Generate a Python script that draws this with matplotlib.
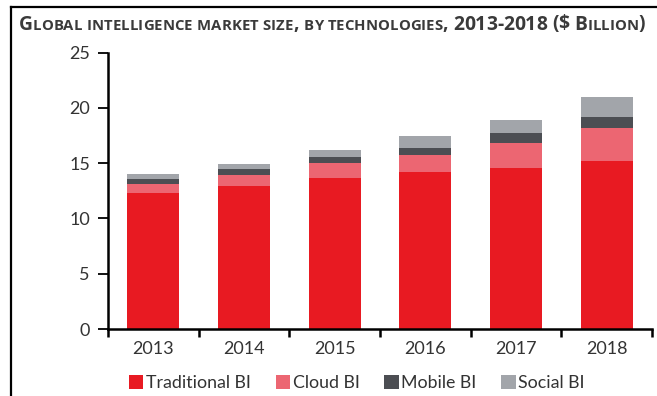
import numpy as np
from matplotlib import pyplot as plt
from matplotlib.lines import Line2D
from matplotlib.patches import Patch

years = ["2013", "2014", "2015", "2016", "2017", "2018"]
traditional_bi = [12.35, 12.95, 13.7, 14.2, 14.6, 15.2]
cloud_bi = [0.75, 1.0, 1.3, 1.5, 2.25, 3.0]
mobile_bi = [0.45, 0.5, 0.6, 0.7, 0.85, 1.0]
social_bi = [0.45, 0.5, 0.6, 1.05, 1.25, 1.75]

series_names = ["Traditional BI", "Cloud BI", "Mobile BI", "Social BI"]
colors = ["#E81A22", "#EC6672", "#4C4E53", "#A2A5AA"]

plt.rcParams["font.family"] = ["Lato", "DejaVu Sans"]
text_color = "#333333"

fig = plt.figure(figsize=(6.57, 3.96), dpi=100)
ax = fig.add_axes([108 / 657, 67 / 396, 544 / 657, (329 - 52.7) / 396])

x = np.arange(len(years))
bottom = np.zeros(len(years))
for values, color in zip([traditional_bi, cloud_bi, mobile_bi, social_bi], colors):
    ax.bar(x, values, width=0.57, bottom=bottom, color=color, linewidth=0)
    bottom += np.array(values)

ax.set_xlim(-0.5, len(years) - 0.5)
ax.set_ylim(0, 25)
ax.set_yticks([0, 5, 10, 15, 20, 25])
ax.set_xticks(x, years)
ax.set_xticks(np.arange(-0.5, len(years)), minor=True)
ax.tick_params(axis="x", which="major", length=0, pad=9, labelsize=13, colors=text_color)
ax.tick_params(axis="x", which="minor", length=6, width=1.8, direction="out", color="black")
ax.tick_params(axis="y", length=7, width=1.3, pad=6, labelsize=13, colors=text_color)
ax.tick_params(axis="y", color="black")
for side in ["top", "right"]:
    ax.spines[side].set_visible(False)
for side in ["left", "bottom"]:
    ax.spines[side].set_linewidth(1.8)
    ax.spines[side].set_color("black")

handles = [Patch(facecolor=c, edgecolor="none") for c in colors]
fig.legend(handles, series_names, loc="center", bbox_to_anchor=(357 / 657, 1 - 383 / 396),
           ncol=4, frameon=False, fontsize=12.8, handlelength=0.8, handleheight=0.8,
           handletextpad=0.15, columnspacing=1.4, labelcolor=text_color)

# frame lines of the original screenshot
fig.add_artist(Line2D([11 / 657, 1.0], [1 - 7 / 396, 1 - 7 / 396], color="black", lw=1.6))
fig.add_artist(Line2D([11 / 657, 11 / 657], [0, 1 - 7 / 396], color="black", lw=1.6))

# small caps title, fitted to the width of the original
title = "Global intelligence market size, by technologies, 2013-2018 ($ Billion)"
renderer = fig.canvas.get_renderer()


def draw_title(scale):
    big, small = 12.0 * scale, 9.3 * scale
    xpos = 19
    texts = []
    for ch in title:
        if ch == " ":
            xpos += small * 0.45
            continue
        size = small if ch.islower() else big
        t = fig.text(xpos / 657, (396 - 29.5) / 396, ch.upper(), fontsize=size,
                     fontweight="bold", family=["Open Sans", "DejaVu Sans"],
                     color="#3a3a3a", va="baseline", ha="left")
        texts.append(t)
        xpos += t.get_window_extent(renderer).width
    return texts, xpos


texts, end = draw_title(1.0)
for t in texts:
    t.remove()
draw_title(1.0 * (640 - 19) / (end - 19))

fig.savefig("out.png", dpi=100)
